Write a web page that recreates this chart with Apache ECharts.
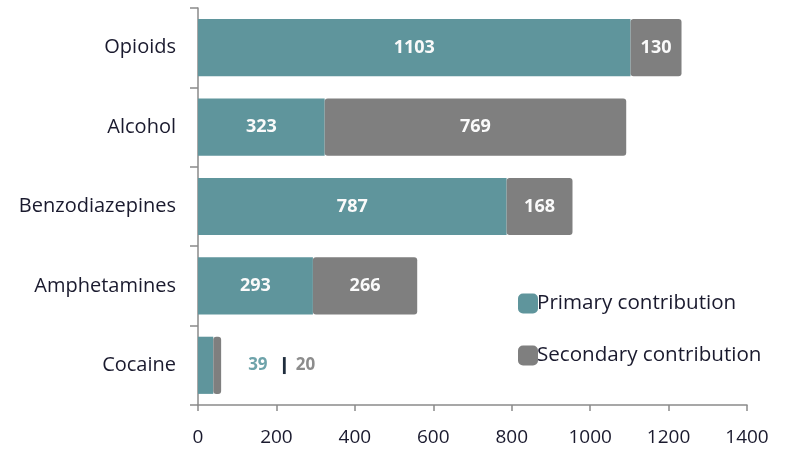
<!DOCTYPE html>
<html>
<head>
<meta charset="utf-8">
<script src="https://cdn.jsdelivr.net/npm/echarts@6/dist/echarts.min.js"></script>
<style>
  html, body { margin: 0; padding: 0; background: #fff; }
  #chart { width: 787px; height: 452px; }
</style>
</head>
<body>
<div id="chart"></div>
<script>
let categories = ['Opioids', 'Alcohol', 'Benzodiazepines', 'Amphetamines', 'Cocaine'];
let primary = [1103, 323, 787, 293, 39];
let secondary = [130, 769, 168, 266, 20];
let xTicks = [0, 200, 400, 600, 800, 1000, 1200, 1400];

const TEAL = '#5f959c';
const GREY = '#7f7f7f';
const FONT = '"Open Sans", "DejaVu Sans", sans-serif';
// bars too small to hold their labels get them outside, to the right
const SMALL = 100;

let chart = echarts.init(document.getElementById('chart'), null, {renderer: 'canvas'});

let primaryData = primary.map((v, i) => {
    let item = {value: v};
    if (v + secondary[i] < SMALL) item.label = {show: false};
    return item;
});

let secondaryData = secondary.map((v, i) => {
    let item = {value: v};
    if (primary[i] + v < SMALL) {
        item.label = {
            position: 'right',
            distance: 27,
            formatter: `{a|${primary[i]}}  {s|❙} {b|${v}}`,
            rich: {
                a: {color: '#6ea3aa', fontSize: 17, fontWeight: 'bold', fontFamily: FONT},
                s: {color: '#1f2d3d', fontSize: 17, fontWeight: 'bold', fontFamily: FONT},
                b: {color: '#8c8c8c', fontSize: 17, fontWeight: 'bold', fontFamily: FONT}
            }
        };
    }
    return item;
});

let labelStyle = {
    show: true,
    position: 'inside',
    color: '#fafafa',
    fontSize: 18,
    fontWeight: 'bold',
    fontFamily: FONT
};

let option = {
    animation: false,
    backgroundColor: '#fff',
    grid: {left: 198, right: 40, top: 8, bottom: 47},
    legend: {
        orient: 'vertical',
        left: 518,
        top: 293,
        padding: 0,
        itemWidth: 20,
        itemHeight: 20,
        itemGap: 31,
        itemStyle: {borderRadius: 3},
        textStyle: {fontSize: 20.6, color: '#1a1a2e', fontFamily: FONT, padding: [0, 0, 0, -6]},
        data: ['Primary contribution', 'Secondary contribution']
    },
    xAxis: {
        type: 'value',
        min: xTicks[0],
        max: xTicks[xTicks.length - 1],
        interval: xTicks[1] - xTicks[0],
        axisLine: {show: true, lineStyle: {color: '#8a8a8a', width: 1.5}},
        axisTick: {show: true, length: 6, inside: false, lineStyle: {color: '#8a8a8a', width: 1.5}},
        splitLine: {show: false},
        axisLabel: {color: '#1a1a2e', fontSize: 19, fontFamily: FONT, margin: 23, formatter: v => String(v)}
    },
    yAxis: {
        type: 'category',
        inverse: true,
        data: categories,
        axisLine: {show: true, lineStyle: {color: '#8a8a8a', width: 1.5}},
        axisTick: {show: true, length: 8, lineStyle: {color: '#8a8a8a', width: 1.5}},
        axisLabel: {color: '#1a1a2e', fontSize: 20, fontFamily: FONT, margin: 22}
    },
    series: [
        {
            name: 'Primary contribution',
            type: 'bar',
            stack: 'total',
            barWidth: '72%',
            itemStyle: {color: TEAL},
            label: labelStyle,
            data: primaryData
        },
        {
            name: 'Secondary contribution',
            type: 'bar',
            stack: 'total',
            barWidth: '72%',
            itemStyle: {color: GREY, borderRadius: 3},
            label: labelStyle,
            data: secondaryData
        }
    ]
};

chart.setOption(option);
</script>
</body>
</html>
